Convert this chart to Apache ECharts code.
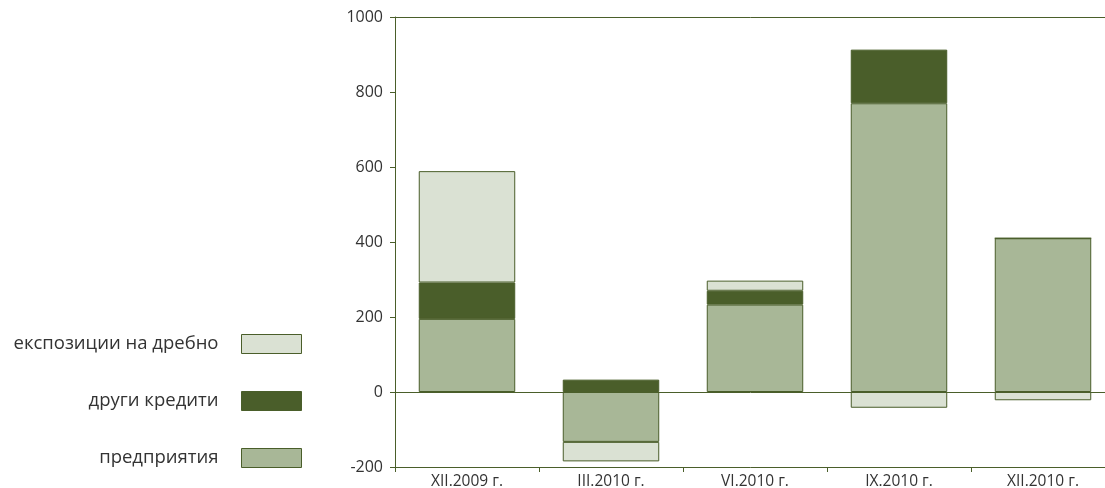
<!DOCTYPE html>
<html><head><meta charset="utf-8">
<script src="https://cdn.jsdelivr.net/npm/echarts@6/dist/echarts.min.js"></script>
<style>html,body{margin:0;padding:0;background:#fff}#c{width:1105px;height:488px}</style>
</head><body><div id="c"></div>
<script>
const categories = ['XII.2009 г.', 'III.2010 г.', 'VI.2010 г.', 'IX.2010 г.', 'XII.2010 г.'];
const predpriyatiya = [195, -133, 233, 770, 410];
const drugiKrediti = [97, 33, 37, 143, 0];
const ekspozicii = [297, -52, 27, -42, -22];
const seriesNames = ['предприятия', 'други кредити', 'експозиции на дребно'];
const yTicks = { min: -200, max: 1000, interval: 200 };

const olive = '#4a5e2a';
const font = '"Open Sans", Lato, sans-serif';
const chart = echarts.init(document.getElementById('c'));
function bar(name, data, color, extra) {
  return Object.assign({
    name, type: 'bar', stack: 'total', data, barCategoryGap: '33%',
    itemStyle: { color, borderColor: olive, borderWidth: 1 }
  }, extra || {});
}
chart.setOption({
  animation: false,
  textStyle: { fontFamily: font },
  grid: { left: 395, top: 17, width: 720, height: 450, containLabel: false, outerBoundsMode: 'none' },
  legend: {
    orient: 'vertical', align: 'right', right: 803, top: 334, padding: 0,
    itemWidth: 60, itemHeight: 19, itemGap: 37,
    icon: 'rect',
    itemStyle: { borderColor: olive, borderWidth: 1 },
    data: ['експозиции на дребно', 'други кредити', 'предприятия'],
    textStyle: { fontSize: 18.5, lineHeight: 19, color: '#333', fontFamily: font, padding: [0, 18, 0, 0] }
  },
  xAxis: [{
    type: 'category', data: categories, position: 'bottom',
    axisLine: { onZero: false, lineStyle: { color: olive, width: 1 } },
    axisTick: { show: true, length: 5, lineStyle: { color: olive } },
    axisLabel: { color: '#333', fontSize: 15.5, margin: 7, fontFamily: font }
  }, {
    type: 'category', data: categories, position: 'top',
    axisLine: { onZero: false, lineStyle: { color: olive, width: 1 } },
    axisTick: { show: false }, axisLabel: { show: false }
  }],
  yAxis: {
    type: 'value', min: yTicks.min, max: yTicks.max, interval: yTicks.interval,
    axisLine: { show: true, lineStyle: { color: olive, width: 1 } },
    axisTick: { show: true, length: 5, lineStyle: { color: olive } },
    splitLine: { show: false },
    axisLabel: { color: '#333', fontSize: 16, margin: 12, fontFamily: font, formatter: v => String(v) }
  },
  series: [
    bar(seriesNames[0], predpriyatiya, '#a8b797', {
      markLine: { silent: true, symbol: 'none', label: { show: false },
        lineStyle: { color: olive, type: 'solid', width: 1 }, data: [{ yAxis: 0 }] }
    }),
    bar(seriesNames[1], drugiKrediti, olive),
    bar(seriesNames[2], ekspozicii, '#dae1d3')
  ]
});
</script></body></html>
